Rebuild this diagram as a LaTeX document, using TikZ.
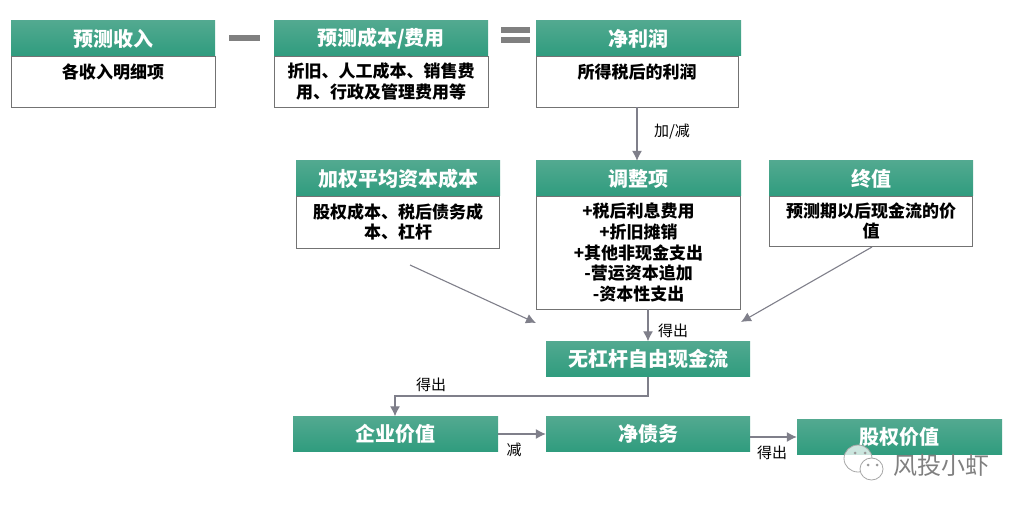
\documentclass[tikz,border=0pt]{standalone}
\usepackage{fontspec}
\setmainfont{Noto Sans CJK SC}
\usepackage{xcolor}
\usetikzlibrary{arrows.meta,shapes.geometric}
\definecolor{headtop}{HTML}{52A990}
\definecolor{headbot}{HTML}{2F9C7E}
\definecolor{linegray}{HTML}{7F7F8A}
\newcommand{\cardwidth}{204pt}
\newcommand{\cardhead}{35pt}
\tikzstyle{head}=[rectangle, top color=headtop, bottom color=headbot, minimum width=\cardwidth, minimum height=\cardhead, inner sep=0, text=white, font=\fontsize{20}{24}\selectfont\bfseries]
\tikzstyle{body}=[draw=gray!90!black, rectangle, line width=0.8pt, inner sep=0, align=center, text width=196pt, font=\fontsize{17}{20.7}\selectfont\bfseries]
\tikzstyle{sign}=[rectangle, fill=gray, inner sep=0]
\tikzstyle{arrow}=[-{Latex[length=10pt,width=10pt]}, color=linegray, line width=1.1pt]
\tikzstyle{lbl}=[inner sep=0, font=\fontsize{15}{17}\selectfont]
\tikzstyle{bubble}=[ellipse, draw=gray!70, line width=0.8pt, inner sep=0]
\tikzstyle{eye}=[circle, fill=gray!80, minimum width=3pt, inner sep=0]
\begin{document}
\begin{tikzpicture}[x=1pt, y=-1pt]
  \useasboundingbox (0,0) rectangle (1024,510);

  \node[body, minimum width=204pt, minimum height=51pt] (incomebody) at (113,81.5) {各收入明细项\\ \mbox{}};
  \node[head] (income) at (113,38.5) {预测收入};
  \node[body, minimum width=214pt, minimum height=51pt, text width=206pt] (costbody) at (381,81.5) {折旧、人工成本、销售费\\用、行政及管理费用等};
  \node[head, minimum width=214pt] (cost) at (381,38.5) {预测成本/费用};
  \node[body, minimum width=202pt, minimum height=51pt] (profitbody) at (637,81.5) {所得税后的利润\\ \mbox{}};
  \node[head, minimum width=205pt] (profit) at (638.5,38.5) {净利润};

  \node[sign, minimum width=31pt, minimum height=6pt] (minus) at (244.5,38) {};
  \node[sign, minimum width=29pt, minimum height=6pt] (eqtop) at (515.5,30) {};
  \node[sign, minimum width=29pt, minimum height=6pt] (eqbot) at (515.5,40.5) {};

  \node[body, minimum width=203pt, minimum height=52pt] (waccbody) at (398,222) {股权成本、税后债务成\\本、杠杆};
  \node[head] (wacc) at (398,178.5) {加权平均资本成本};
  \node[body, minimum width=204pt, minimum height=113pt] (adjustbody) at (638.5,252.5) {+税后利息费用\\+折旧摊销\\+其他非现金支出\\-营运资本追加\\-资本性支出};
  \node[head, minimum width=205pt] (adjust) at (638.5,178.5) {调整项};
  \node[body, minimum width=203pt, minimum height=50pt] (finalbody) at (871,221) {预测期以后现金流的价\\值};
  \node[head] (final) at (871,178.5) {终值};

  \node[head] (fcf) at (648,359) {无杠杆自由现金流};
  \node[head, minimum width=205pt] (firm) at (395.5,434) {企业价值};
  \node[head] (debt) at (648,434) {净债务};
  \node[head, minimum width=205pt] (equity) at (899.5,437) {股权价值};

  \coordinate (waccstart) at (410,265);
  \coordinate (waccend) at (536,323);
  \coordinate (finalstart) at (872,247);
  \coordinate (finalend) at (741,322);
  \coordinate (adjustout) at (648,309);
  \coordinate (turn1) at (648,396);
  \coordinate (turn2) at (395,396);
  \coordinate (debtout) at (750,437);

  \draw[arrow] (profitbody.south) to (adjust.north -| profitbody.south);
  \draw[arrow] (waccstart) to (waccend);
  \draw[arrow] (finalstart) to (finalend);
  \draw[arrow] (adjustout) to (fcf.north);
  \draw[arrow] (fcf.south) -- (turn1) -- (turn2) -- (firm.north -| turn2);
  \draw[arrow] (firm.east) to (debt.west);
  \draw[arrow] (debtout) to (equity.west);

  \node[lbl] (plusminus) at (672,132) {加/减};
  \node[lbl] (get1) at (673,331) {得出};
  \node[lbl] (get2) at (431,385) {得出};
  \node[lbl] (less) at (514,450) {减};
  \node[lbl] (get3) at (772,453) {得出};

  % watermark
  \node[bubble, fill=white, fill opacity=0.75, minimum width=28pt, minimum height=27pt] (bubble1) at (858,458.5) {};
  \node[bubble, fill=white, minimum width=23pt, minimum height=22pt] (bubble2) at (871.5,469) {};
  \node[eye] (eye1) at (855,453) {};
  \node[eye] (eye2) at (865,453) {};
  \node[eye] (eye3) at (868,465) {};
  \node[eye] (eye4) at (877,465) {};
  \node[text=gray, inner sep=0, font=\fontsize{24}{28}\selectfont] (mark) at (941,465) {风投小虾};
\end{tikzpicture}
\end{document}
